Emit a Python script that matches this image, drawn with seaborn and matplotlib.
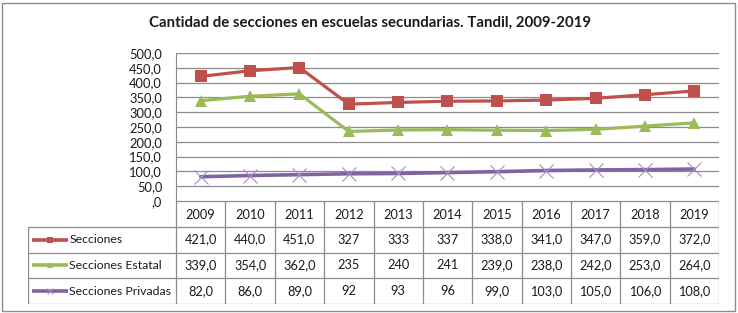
import pandas as pd
import numpy as np
import matplotlib
matplotlib.use('Agg')
import matplotlib.pyplot as plt
import seaborn as sns

# datos
anios = [2009, 2010, 2011, 2012, 2013, 2014, 2015, 2016, 2017, 2018, 2019]
secciones = [421, 440, 451, 327, 333, 337, 338, 341, 347, 359, 372]
secciones_estatal = [339, 354, 362, 235, 240, 241, 239, 238, 242, 253, 264]
secciones_privadas = [82, 86, 89, 92, 93, 96, 99, 103, 105, 106, 108]
anios_sin_decimal = [2012, 2013, 2014]  # en la tabla original salen sin ",0"

series = ['Secciones', 'Secciones Estatal', 'Secciones Privadas']
valores = [secciones, secciones_estatal, secciones_privadas]
colores = ['#C0504D', '#9BBB59', '#8064A2']
marcadores = ['s', '^', 'x']

sns.set_style('white')
plt.rcParams['font.family'] = ['Lato', 'DejaVu Sans']

W, H = 738, 313
fig = plt.figure(figsize=(W / 100, H / 100), dpi=100)

def px(x0, y0, x1, y1):
    return [x0 / W, 1 - y1 / H, (x1 - x0) / W, (y1 - y0) / H]

# borde exterior
fig.patches.append(plt.Rectangle((2 / W, 2 / H), (W - 5) / W, (H - 5) / H,
                                 transform=fig.transFigure, fill=False,
                                 edgecolor='#8c8c8c', lw=1))

fig.text(370 / W, 1 - 23 / H, 'Cantidad de secciones en escuelas secundarias. Tandil, 2009-2019',
         ha='center', va='center', fontsize=10.8, fontweight='bold', color='#1a1a1a')

ax = fig.add_axes(px(176, 53, 719, 201))
x = np.arange(len(anios))
for nombre, vals, c, m in zip(series, valores, colores, marcadores):
    if m == 'x':
        sns.lineplot(x=x, y=vals, ax=ax, color=c, lw=2.6, marker='x', markersize=9.5,
                     markeredgewidth=0.8, markeredgecolor='#a58fc7')
    else:
        sns.lineplot(x=x, y=vals, ax=ax, color=c, lw=2.3, marker=m, markersize=8.5,
                     markeredgewidth=0)

ax.set_xlim(-0.5, len(anios) - 0.5)
ax.set_ylim(0, 500)
ax.set_yticks(np.arange(0, 501, 50))
ax.set_yticklabels([(f'{v:.1f}'.replace('.', ',') if v else ',0') for v in np.arange(0, 501, 50)])
ax.set_xticks([])
ax.grid(axis='y', color='#8c8c8c', lw=0.9)
ax.set_axisbelow(True)
for s in ['top', 'right', 'bottom']:
    ax.spines[s].set_visible(False)
ax.spines['left'].set_color('#8c8c8c')
ax.tick_params(axis='y', labelsize=9.3, pad=10, length=0, colors='#1a1a1a')

# tabla de datos
n = len(anios)
anchos_izq = 3.0
tx = fig.add_axes(px(28, 201, 719, 304))
tx.set_xlim(-0.5 - anchos_izq, n - 0.5)
tx.set_ylim(4, 0)
tx.axis('off')
lc = '#8c8c8c'
fs = 9.2
# lineas horizontales
tx.hlines(0, -0.5, n - 0.5, color=lc, lw=0.9)
for r in [1, 2, 3, 4]:
    tx.hlines(r, -0.5 - anchos_izq, n - 0.5, color=lc, lw=0.9)
tx.vlines(-0.5 - anchos_izq, 1, 4, color=lc, lw=0.9)
for i in range(n + 1):
    tx.vlines(i - 0.5, 0, 4, color=lc, lw=0.9)
for i, a in enumerate(anios):
    tx.text(i, 0.55, str(a), ha='center', va='center', fontsize=fs, color='#1a1a1a')
for r, (nombre, vals, c, m) in enumerate(zip(series, valores, colores, marcadores), start=1):
    for i, (a, v) in enumerate(zip(anios, vals)):
        s = f'{v}' if a in anios_sin_decimal else f'{v:.1f}'.replace('.', ',')
        tx.text(i, r + 0.5, s, ha='center', va='center', fontsize=fs, color='#1a1a1a')
    x0 = -0.5 - anchos_izq + 0.09
    x1 = x0 + 0.72
    tx.plot([x0, x1], [r + 0.5, r + 0.5], color=c, lw=2.6, solid_capstyle='butt')
    tx.plot([(x0 + x1) / 2], [r + 0.5], marker=m, color=c if m != 'x' else '#a58fc7',
            markersize=4, markeredgewidth=0.7 if m == 'x' else 0)
    tx.text(x1 + 0.03, r + 0.5, nombre, ha='left', va='center', fontsize=fs - 0.4, color='#1a1a1a')

fig.savefig('out.png', dpi=100)
